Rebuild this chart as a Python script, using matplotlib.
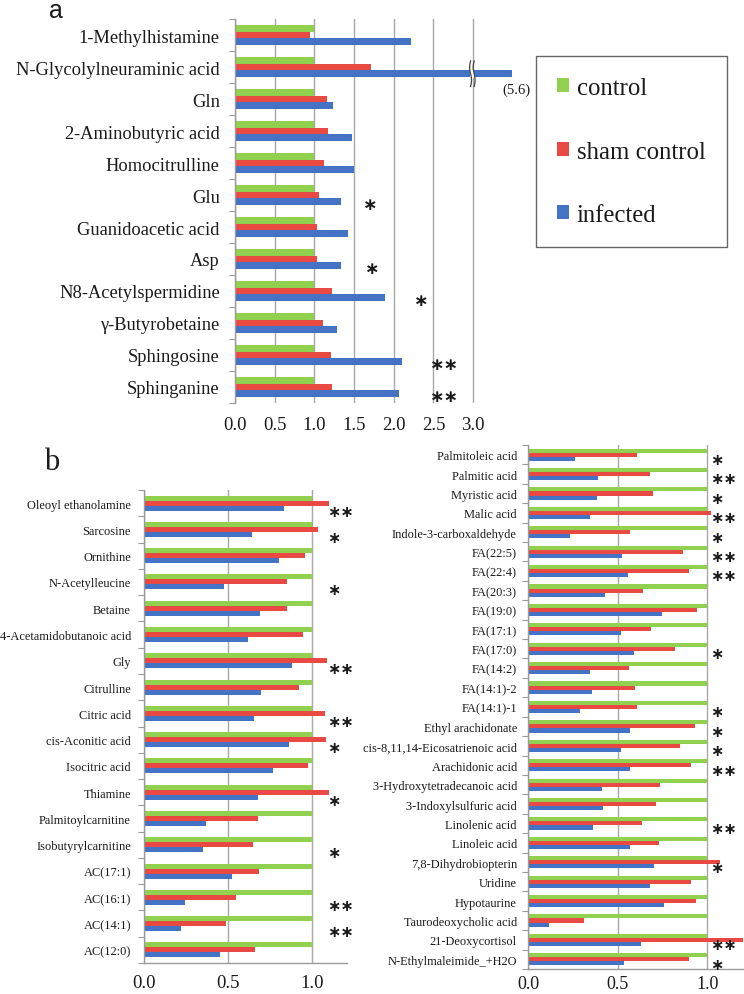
import numpy as np
import matplotlib
matplotlib.use("Agg")
import matplotlib.pyplot as plt
from matplotlib.patches import Patch

# ---------------- data ----------------
a_names = ["1-Methylhistamine", "N-Glycolylneuraminic acid", "Gln", "2-Aminobutyric acid",
           "Homocitrulline", "Glu", "Guanidoacetic acid", "Asp", "N8-Acetylspermidine",
           "γ-Butyrobetaine", "Sphingosine", "Sphinganine"]
a_control = [1.0, 1.0, 1.0, 1.0, 1.0, 1.0, 1.0, 1.0, 1.0, 1.0, 1.0, 1.0]
a_sham = [0.94, 1.71, 1.16, 1.17, 1.12, 1.06, 1.03, 1.03, 1.22, 1.11, 1.21, 1.22]
a_infected = [2.22, 5.6, 1.24, 1.47, 1.50, 1.34, 1.43, 1.33, 1.89, 1.29, 2.10, 2.06]
a_sig = ["", "", "", "", "", "*", "", "*", "*", "", "**", "**"]
a_sig_x = [0, 0, 0, 0, 0, 1.70, 0, 1.73, 2.35, 0, 2.64, 2.64]

b1_names = ["Oleoyl ethanolamine", "Sarcosine", "Ornithine", "N-Acetylleucine", "Betaine",
            "4-Acetamidobutanoic acid", "Gly", "Citrulline", "Citric acid", "cis-Aconitic acid",
            "Isocitric acid", "Thiamine", "Palmitoylcarnitine", "Isobutyrylcarnitine",
            "AC(17:1)", "AC(16:1)", "AC(14:1)", "AC(12:0)"]
b1_control = [1.0] * 18
b1_sham = [1.105, 1.036, 0.96, 0.853, 0.853, 0.948, 1.093, 0.922, 1.08, 1.087,
           0.98, 1.105, 0.682, 0.65, 0.688, 0.549, 0.489, 0.662]
b1_infected = [0.833, 0.642, 0.807, 0.479, 0.692, 0.618, 0.885, 0.70, 0.656, 0.865,
               0.771, 0.682, 0.372, 0.352, 0.523, 0.245, 0.219, 0.453]
b1_sig = ["**", "*", "", "*", "", "", "**", "", "**", "*", "", "*", "", "*", "", "**", "**", ""]

b2_names = ["Palmitoleic acid", "Palmitic acid", "Myristic acid", "Malic acid",
            "Indole-3-carboxaldehyde", "FA(22:5)", "FA(22:4)", "FA(20:3)", "FA(19:0)",
            "FA(17:1)", "FA(17:0)", "FA(14:2)", "FA(14:1)-2", "FA(14:1)-1",
            "Ethyl arachidonate", "cis-8,11,14-Eicosatrienoic acid", "Arachidonic acid",
            "3-Hydroxytetradecanoic acid", "3-Indoxylsulfuric acid", "Linolenic acid",
            "Linoleic acid", "7,8-Dihydrobiopterin", "Uridine", "Hypotaurine",
            "Taurodeoxycholic acid", "21-Deoxycortisol", "N-Ethylmaleimide_+H2O"]
b2_control = [1.0] * 27
b2_sham = [0.607, 0.68, 0.70, 1.022, 0.57, 0.865, 0.90, 0.643, 0.942, 0.688, 0.822,
           0.566, 0.596, 0.607, 0.931, 0.849, 0.912, 0.735, 0.716, 0.637, 0.729,
           1.069, 0.912, 0.936, 0.314, 1.25, 0.90]
b2_infected = [0.265, 0.39, 0.385, 0.344, 0.235, 0.523, 0.559, 0.432, 0.748, 0.518,
               0.589, 0.344, 0.355, 0.29, 0.572, 0.518, 0.572, 0.415, 0.42, 0.361,
               0.572, 0.705, 0.68, 0.759, 0.116, 0.632, 0.536]
b2_sig = ["*", "**", "*", "**", "*", "**", "**", "", "", "", "*", "", "", "*",
          "*", "*", "**", "", "", "**", "", "*", "", "", "", "**", "*"]

legend_labels = ["control", "sham control", "infected"]

# ---------------- style ----------------
GREEN = "#92d050"
RED = "#e84a43"
BLUE = "#4472c4"
GRID = "#a8a8a8"
SPINE = "#9a9a9a"
TXT = "#1a1a1a"
SERIF = ["Liberation Serif", "DejaVu Serif"]
STAR_FONT = ["DejaVu Sans"]

plt.rcParams["font.family"] = SERIF

fig = plt.figure(figsize=(7.44, 9.95), dpi=100)
W, H = 744.0, 995.0


def make_ax(x0, x1, y0, y1):
    return fig.add_axes([x0 / W, 1 - y1 / H, (x1 - x0) / W, (y1 - y0) / H])


def draw_panel(ax, names, ctrl, sham, inf, h, xmax, xticks, label_size, label_pad,
               tick_size, tick_pad, bottom_spine):
    n = len(names)
    y = np.arange(n)
    ax.set_axisbelow(True)
    ax.barh(y - h, ctrl, height=h, color=GREEN, lw=0)
    ax.barh(y, sham, height=h, color=RED, lw=0)
    ax.barh(y + h, inf, height=h, color=BLUE, lw=0)
    ax.set_ylim(n - 0.5, -0.5)
    ax.set_xlim(0, xmax)
    ax.set_yticks(np.arange(n + 1) - 0.5)
    ax.set_yticklabels([])
    ax.set_yticks(y, minor=True)
    ax.set_yticklabels(names, minor=True)
    ax.tick_params(axis="y", which="major", length=4, width=0.8, direction="out", color=SPINE)
    ax.tick_params(axis="y", which="minor", length=0, pad=label_pad,
                   labelsize=label_size, labelcolor=TXT)
    ax.set_xticks(xticks)
    ax.set_xticklabels([f"{t:.1f}" for t in xticks])
    ax.tick_params(axis="x", length=0, pad=tick_pad, labelsize=tick_size, labelcolor=TXT)
    ax.xaxis.grid(True, color=GRID, lw=1.0)
    for s in ["top", "right"]:
        ax.spines[s].set_visible(False)
    ax.spines["left"].set_color(SPINE)
    ax.spines["left"].set_linewidth(1.0)
    if bottom_spine:
        ax.spines["bottom"].set_color(SPINE)
        ax.spines["bottom"].set_linewidth(1.0)
    else:
        ax.spines["bottom"].set_visible(False)
    ax.set_facecolor("none")


def stars(ax, sig, xs, dy, size, ha):
    for i, s in enumerate(sig):
        if s:
            ax.text(xs[i] if isinstance(xs, list) else xs, i + dy, "\u2217" * len(s),
                    family=STAR_FONT, fontsize=size, ha=ha, va="center",
                    color=TXT, fontweight="bold", clip_on=False)


# ---------------- panel a ----------------
axa = make_ax(235, 512, 20, 404)
draw_panel(axa, a_names, a_control, a_sham, a_infected, 0.21, 3.49,
           [0.0, 0.5, 1.0, 1.5, 2.0, 2.5, 3.0], 13.3, 11, 13.5, 9, False)
stars(axa, a_sig, a_sig_x, 0.27, 12.5, "center")

# axis break on the out-of-range bar
brk_row = a_infected.index(max(a_infected))
yb = brk_row + 0.21
axa.barh(yb, 0.05, left=2.965, height=0.24, color="white", lw=0, zorder=3)
t = np.linspace(-1, 1, 40)
for xb in (2.968, 3.013):
    axa.plot(xb + 0.012 * np.sin(t * np.pi), yb + 0.40 * t, color="#444444",
             lw=0.9, zorder=4, clip_on=False)
axa.text(3.55, brk_row + 0.69, f"({max(a_infected):.1f})", fontsize=10.5,
         ha="center", va="center", color=TXT, clip_on=False)

# ---------------- panel b ----------------
axb1 = make_ax(144, 347, 491, 964)
draw_panel(axb1, b1_names, b1_control, b1_sham, b1_infected, 0.19, 1.21,
           [0.0, 0.5, 1.0], 8.9, 9.4, 13.5, 8, True)
stars(axb1, b1_sig, 1.09, 0.30, 11.5, "left")

axb2 = make_ax(528, 743, 446, 970)
draw_panel(axb2, b2_names, b2_control, b2_sham, b2_infected, 0.21, 1.2,
           [0.0, 0.5, 1.0], 8.9, 8, 13, 4, True)
stars(axb2, b2_sig, 1.015, 0.25, 11.5, "left")

# ---------------- panel letters ----------------
fig.text(56 / W, 1 - 18 / H, "a", family=["Liberation Sans"], fontsize=18,
         ha="center", va="baseline", color=TXT)
fig.text(52 / W, 1 - 470 / H, "b", family=SERIF, fontsize=22,
         ha="center", va="baseline", color=TXT)

# ---------------- legend ----------------
handles = [Patch(facecolor=c, edgecolor="none") for c in (GREEN, RED, BLUE)]
leg = fig.legend(handles, legend_labels, loc="upper left",
                 bbox_to_anchor=(536 / W, 1 - 57 / H), prop={"family": SERIF, "size": 17.8},
                 frameon=True, fancybox=False, borderpad=0.85, labelspacing=1.68,
                 handlelength=0.5, handleheight=0.5, handletextpad=0.3, borderaxespad=0)
leg.get_frame().set_edgecolor("#404040")
leg.get_frame().set_linewidth(1.0)
for tx in leg.get_texts():
    tx.set_color(TXT)

fig.savefig("out.png", dpi=100, facecolor="white")
